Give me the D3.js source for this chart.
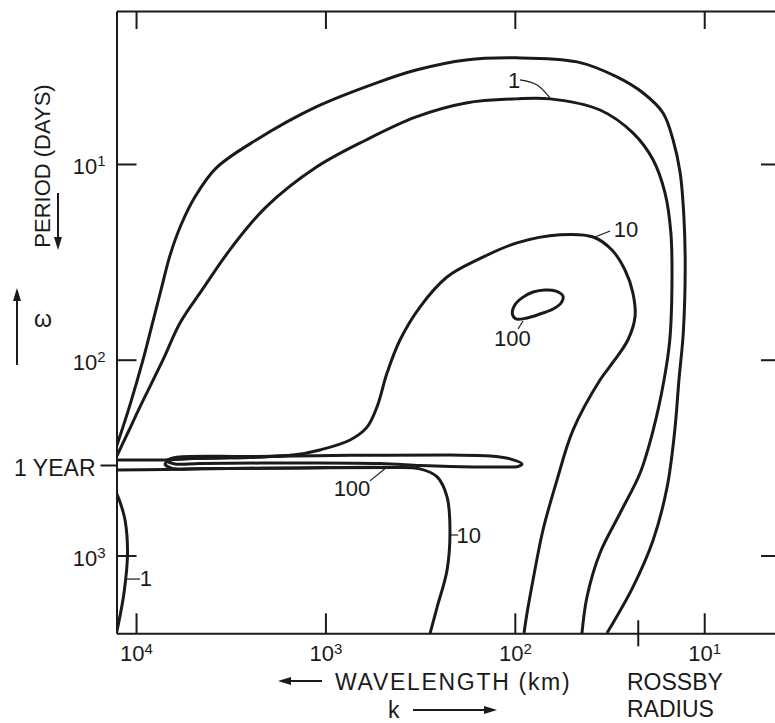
<!DOCTYPE html>
<html>
<head>
<meta charset="utf-8">
<script src="https://cdn.jsdelivr.net/npm/d3@7/dist/d3.min.js"></script>
<style>
  body { margin: 0; background: #fff; }
  svg text { font-family: "Liberation Sans", Arial, sans-serif; fill: #1a1a1a; }
  .axis path, .axis line { stroke: #1a1a1a; stroke-width: 2; }
  .axis text { font-size: 22px; }
  .contour { fill: none; stroke: #1a1a1a; stroke-width: 3; stroke-linejoin: round; }
  .leader { fill: none; stroke: #1a1a1a; stroke-width: 1.2; }
</style>
</head>
<body>
<div id="chart"></div>
<script>
'use strict';

// axis ticks: wavelength (km) runs right to left, period (days) runs top to bottom
const xTicks = [1e4, 1e3, 1e2, 1e1];
const yTicks = [1e1, 1e2, 1e3];
const yearDays = 345;     // where the "1 YEAR" tick sits on the printed scale
const rossbyKm = 22.3;    // rossby radius tick on the wavelength axis

// contours, [wavelength km, period days]
const outerOne = [
  [12700, 279], [10760, 170], [9180, 100], [8230, 66.4], [7380, 44.0], [6610, 29.2],
  [5790, 20.5], [4880, 14.7], [3780, 10.5], [2320, 7.54], [1120, 5.11], [541, 3.86],
  [332, 3.31], [181, 2.94], [98.6, 2.87], [46.9, 3.01], [28.9, 3.59], [21.0, 4.34],
  [16.5, 5.49], [14.6, 7.54], [13.4, 11.1], [12.8, 18.7], [12.6, 33.6], [12.9, 73.0],
  [13.6, 127], [14.3, 229], [15.7, 447], [18.6, 833], [23.8, 1450], [32.6, 2490]
];
const innerOne = [
  [12700, 314], [11000, 234], [9530, 174], [7200, 100], [5860, 64.9], [4480, 44.0],
  [3110, 26.5], [2060, 16.6], [1120, 10.4], [610, 7.54], [332, 5.75], [181, 4.88],
  [98.6, 4.65], [65.2, 4.65], [35.5, 5.30], [23.8, 6.94], [18.6, 9.54], [16.1, 14.1],
  [15.0, 22.5], [14.8, 40.5], [15.2, 79.3], [16.3, 127], [18.6, 229], [21.8, 379],
  [27.8, 607], [35.5, 971], [41.6, 1630], [44.2, 2490]
];
const oneStripTop = [[12700, 325], [7030, 325], [4590, 319], [2210, 314], [1480, 308]];
const oneStripBottom = [[12700, 366], [7030, 364], [4590, 361], [1360, 357], [456, 355]];
const oneLow = [
  [12700, 479], [12150, 533], [11430, 659], [11090, 971], [11570, 1550], [12450, 2290], [12700, 2490]
];
const ten = [
  [280, 2490], [257, 1830], [228, 1190], [220, 741], [228, 502], [257, 397], [317, 361],
  [456, 355], [1360, 357], [4590, 361], [6450, 359], [7030, 341], [6450, 325], [4590, 319],
  [2210, 314], [1480, 307], [1070, 289], [741, 257], [603, 221], [534, 174], [473, 117],
  [404, 79.3], [317, 53.8], [228, 37.8], [158, 30.9], [97.4, 25.3], [57.7, 23.0],
  [38.6, 23.6], [30.7, 27.5], [26.2, 34.8], [23.8, 45.6], [23.2, 60.5], [25.3, 79.3],
  [30.3, 103], [35.5, 127], [49.3, 229], [59.9, 412], [71.0, 741], [80.1, 1330],
  [86.2, 1970], [89.4, 2490]
];
const hundredStrip = [
  [6860, 329], [6220, 316], [2500, 312], [741, 308], [220, 307], [135, 310], [106, 321],
  [91.6, 341], [96.2, 351], [120, 353], [220, 351], [317, 347], [515, 339], [1360, 337],
  [4590, 339], [6220, 341]
];
const hundredIsland = [
  [103, 58.4], [100, 52.5], [91.6, 48.3], [80.1, 45.1], [69.2, 44.0], [60.6, 44.6],
  [55.7, 47.2], [57.0, 51.3], [62.8, 55.1], [73.6, 58.4], [86.2, 61.2], [98.6, 61.9]
];

// contour labels and their leader lines
const labelText = ['1', '10', '100', '100', '10', '1'];
const labelAt = [[101, 3.72], [25.9, 21.5], [103, 77.4], [724, 452], [175, 786], [8860, 1300]];
const labelLead = [
  [[93.9, 3.72], [76.3, 3.95], [65.2, 4.60]],
  [[31.4, 22.0], [37.7, 23.6]],
  [[96.2, 69.7], [90.5, 63.4]],
  [[582, 416], [473, 353]],
  [[199, 786], [223, 786]],
  [[9530, 1320], [11150, 1320]]
];

const width = 775, height = 723;
const plot = { left: 116.5, top: 11, right: 780, bottom: 633.3 };

const svg = d3.select('#chart').append('svg')
    .attr('width', width)
    .attr('height', height);

const x = d3.scaleLog().domain([12680, 3.98]).range([plot.left, plot.right]);
const y = d3.scaleLog().domain([1.654, 2498]).range([plot.top, plot.bottom]);

svg.append('clipPath').attr('id', 'plot-clip')
  .append('rect')
    .attr('x', plot.left).attr('y', plot.top)
    .attr('width', plot.right - plot.left).attr('height', plot.bottom - plot.top);

// "10" with a raised exponent
function powerLabel(text, shift) {
  text.each(function(d) {
    const t = d3.select(this).text('');
    t.append('tspan').text('10');
    t.append('tspan')
        .attr('dy', -shift)
        .attr('font-size', 15)
        .text(Math.round(Math.log10(d)));
  });
}

// axes, ticks pointing into the box
svg.append('g')
    .attr('class', 'axis')
    .attr('transform', `translate(0,${plot.bottom})`)
    .call(d3.axisBottom(x).tickValues(xTicks).tickSizeInner(-20).tickSizeOuter(0).tickPadding(12))
    .call(g => g.selectAll('text').call(powerLabel, 7));

svg.append('g')
    .attr('class', 'axis')
    .attr('transform', `translate(0,${plot.top})`)
    .call(d3.axisTop(x).tickValues(xTicks).tickSizeInner(-18).tickSizeOuter(0).tickFormat(''));

svg.append('g')
    .attr('class', 'axis')
    .attr('transform', `translate(${plot.left},0)`)
    .call(d3.axisLeft(y).tickValues(yTicks).tickSizeInner(-20).tickSizeOuter(0).tickPadding(11))
    .call(g => g.selectAll('text').attr('dy', '0.45em').call(powerLabel, 8));

svg.append('g')
    .attr('class', 'axis')
    .attr('transform', `translate(${plot.left},0)`)
    .call(d3.axisLeft(y).tickValues([yearDays]).tickSizeInner(16).tickSizeOuter(0).tickPadding(5).tickFormat(() => '1 YEAR'))
    .call(g => g.select('.domain').remove())
    .call(g => g.selectAll('text').attr('dy', '0.45em').style('font-size', '23px'));

svg.append('g')
    .attr('class', 'axis')
    .attr('transform', `translate(${plot.right},0)`)
    .call(d3.axisRight(y).tickValues(yTicks).tickSizeInner(-19).tickSizeOuter(0).tickFormat(''));

svg.append('line')
    .attr('x1', x(rossbyKm)).attr('x2', x(rossbyKm))
    .attr('y1', plot.bottom - 13).attr('y2', plot.bottom + 13)
    .attr('stroke', '#1a1a1a').attr('stroke-width', 2);

// contours
const line = d3.line().x(d => x(d[0])).y(d => y(d[1])).curve(d3.curveCatmullRom);
const loop = d3.line().x(d => x(d[0])).y(d => y(d[1])).curve(d3.curveCatmullRomClosed);

const body = svg.append('g').attr('clip-path', 'url(#plot-clip)');

[outerOne, innerOne, oneStripTop, oneStripBottom, oneLow, ten].forEach(c => {
  body.append('path').attr('class', 'contour').attr('d', line(c));
});
[hundredStrip, hundredIsland].forEach(c => {
  body.append('path').attr('class', 'contour').attr('d', loop(c));
});

// labels on the contours
const leadLine = d3.line().x(d => x(d[0])).y(d => y(d[1])).curve(d3.curveNatural);
labelText.forEach((t, i) => {
  svg.append('path').attr('class', 'leader').attr('d', leadLine(labelLead[i]));
  svg.append('text')
      .attr('x', x(labelAt[i][0]))
      .attr('y', y(labelAt[i][1]))
      .attr('text-anchor', 'middle')
      .attr('dy', '0.36em')
      .style('font-size', '22px')
      .text(t);
});

// arrows
function arrow(x1, y1, x2, y2) {
  const a = Math.atan2(y2 - y1, x2 - x1), len = 13, half = 4;
  const bx = x2 - len * Math.cos(a), by = y2 - len * Math.sin(a);
  svg.append('line')
      .attr('x1', x1).attr('y1', y1).attr('x2', bx).attr('y2', by)
      .attr('stroke', '#1a1a1a').attr('stroke-width', 2);
  svg.append('path')
      .attr('d', `M${x2},${y2}L${bx - half * Math.sin(a)},${by + half * Math.cos(a)}L${bx + half * Math.sin(a)},${by - half * Math.cos(a)}Z`)
      .attr('fill', '#1a1a1a');
}

arrow(322, 681, 278, 681);
arrow(413, 710, 497, 710);
arrow(58, 193, 58, 250);
arrow(17, 365, 17, 288);

// axis titles
svg.append('text').attr('x', 335).attr('y', 690)
    .style('font-size', '23px').style('letter-spacing', '1.7px')
    .text('WAVELENGTH (km)');
svg.append('text').attr('x', 388).attr('y', 718).style('font-size', '23px').text('k');
svg.append('text').attr('x', 627).attr('y', 690).style('font-size', '23px').text('ROSSBY');
svg.append('text').attr('x', 627).attr('y', 717).style('font-size', '23px').text('RADIUS');
svg.append('text')
    .attr('transform', 'translate(50,166) rotate(-90)')
    .attr('text-anchor', 'middle')
    .style('font-size', '22px')
    .text('PERIOD (DAYS)');
svg.append('text').attr('x', 43).attr('y', 327)
    .attr('text-anchor', 'middle').style('font-size', '23px')
    .text('ω');
</script>
</body>
</html>
